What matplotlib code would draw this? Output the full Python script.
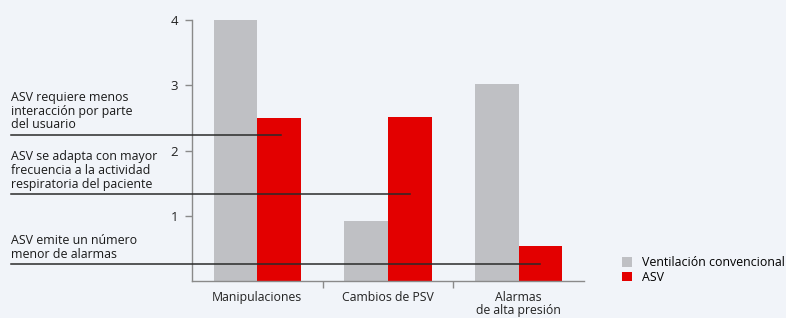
import matplotlib.pyplot as plt
import numpy as np

plt.rcParams['font.family'] = ['Open Sans', 'DejaVu Sans']

categories = ["Manipulaciones", "Cambios de PSV", "Alarmas\nde alta presión"]
convencional = [4.0, 0.92, 3.02]
asv = [2.5, 2.51, 0.53]
series_labels = ["Ventilación convencional", "ASV"]
y_ticks = [1, 2, 3, 4]

notes = [
    "ASV requiere menos\ninteracción por parte\ndel usuario",
    "ASV se adapta con mayor\nfrecuencia a la actividad\nrespiratoria del paciente",
    "ASV emite un número\nmenor de alarmas",
]
note_levels = [2.24, 1.33, 0.26]
note_ends = [0.18, 1.17, 2.16]

GREY = "#bfc0c4"
RED = "#e30000"
BG = "#f1f4f9"
W, H = 786, 318

fig = plt.figure(figsize=(W / 100, H / 100), dpi=100, facecolor=BG)
ax = fig.add_axes([192 / W, (H - 281) / H, (584 - 192) / W, (281 - 20) / H])
ax.set_facecolor("none")

x = np.arange(len(categories))
bw = 1 / 3
ax.bar(x - bw / 2, convencional, bw, color=GREY, label=series_labels[0])
ax.bar(x + bw / 2, asv, bw, color=RED, label=series_labels[1])

ax.set_xlim(-0.5, 2.5)
ax.set_ylim(0, 4)

for s in ["top", "right"]:
    ax.spines[s].set_visible(False)
for s in ["left", "bottom"]:
    ax.spines[s].set_color("#8a8a8a")
    ax.spines[s].set_linewidth(1.0)

ax.set_yticks(y_ticks)
ax.tick_params(axis="y", length=5, width=1, color="#8a8a8a", pad=5,
               labelsize=9.5, labelcolor="#222222")
ax.set_xticks(x)
ax.set_xticklabels(categories, fontsize=8.8, color="#222222", linespacing=1.05)
ax.tick_params(axis="x", which="major", length=0, pad=7)
ax.set_xticks([0.5, 1.5], minor=True)
ax.tick_params(axis="x", which="minor", length=5, width=1, color="#8a8a8a")

# annotation lines with their notes
left = -0.5 - (192 - 11) / 131
for text, lvl, end in zip(notes, note_levels, note_ends):
    ax.plot([left, end], [lvl, lvl], color="#2a2a2a", lw=1.1,
            clip_on=False, zorder=5)
    ax.annotate(text, xy=(left, lvl), xytext=(0, 2.5), textcoords="offset points",
                ha="left", va="bottom", fontsize=8.9, color="#1a1a1a",
                linespacing=1.08, annotation_clip=False)

leg = fig.legend(loc="upper left", bbox_to_anchor=(617 / W, (H - 251) / H),
                 frameon=False, fontsize=8.9, handlelength=0.85, handleheight=0.85,
                 handletextpad=0.8, labelspacing=0.15, borderaxespad=0)

fig.savefig("out.png", dpi=100, facecolor=BG)
